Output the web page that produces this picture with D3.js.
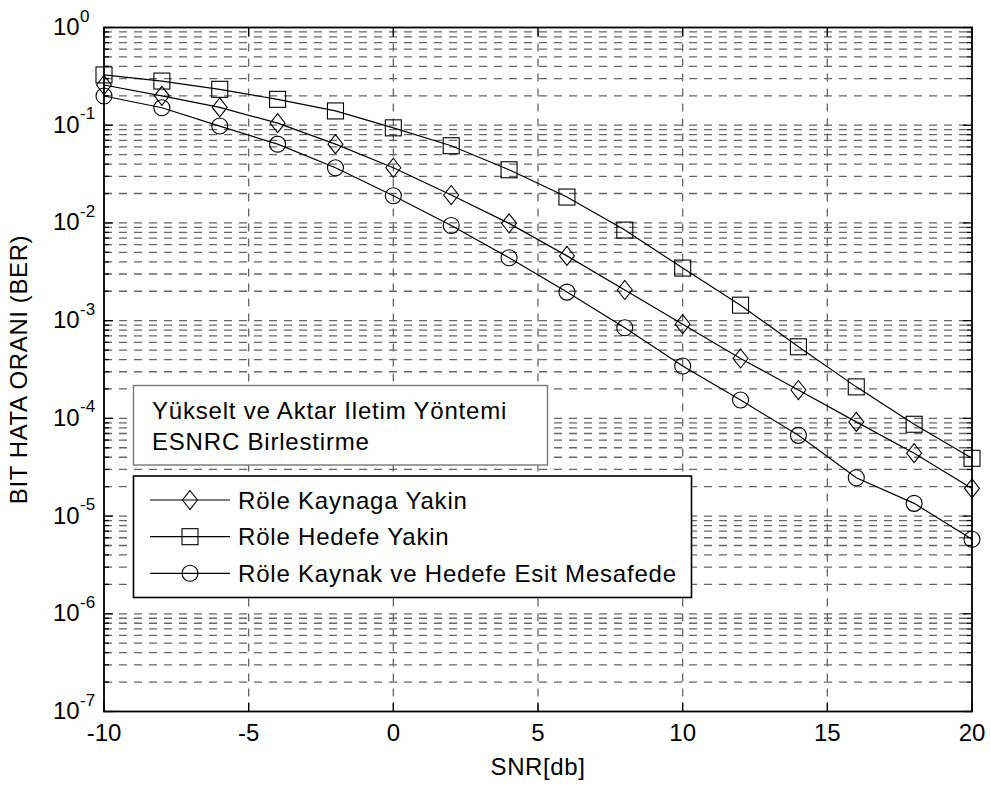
<!DOCTYPE html>
<html>
<head>
<meta charset="utf-8">
<script src="https://cdn.jsdelivr.net/npm/d3@7"></script>
<style>
  body { margin: 0; background: #fff; }
  text { font-family: "Liberation Sans", Arial, Helvetica, sans-serif; fill: #000; }
</style>
</head>
<body>
<svg id="chart" width="991" height="789"></svg>
<script>
// SNR values (dB) for every simulated point
const snr = [-10, -8, -6, -4, -2, 0, 2, 4, 6, 8, 10, 12, 14, 16, 18, 20];

// Bit error rate for each relay position
const berKaynaga = [0.258, 0.2, 0.152, 0.105, 0.064, 0.0367, 0.0193, 0.0099, 0.0046, 0.00206,
                    0.00092, 0.00041, 0.000195, 9.2e-5, 4.4e-5, 1.92e-5];
const berHedefe  = [0.327, 0.283, 0.233, 0.184, 0.14, 0.094, 0.0617, 0.035, 0.0184, 0.00845,
                    0.00345, 0.00144, 0.00054, 0.00021, 8.7e-5, 3.9e-5];
const berEsit    = [0.199, 0.151, 0.098, 0.064, 0.0367, 0.019, 0.0094, 0.0044, 0.00196, 0.000846,
                    0.000343, 0.000154, 6.7e-5, 2.47e-5, 1.35e-5, 5.8e-6];

const seriesNames = ["Röle Kaynaga Yakin", "Röle Hedefe Yakin", "Röle Kaynak ve Hedefe Esit Mesafede"];
const seriesMarkers = ["diamond", "square", "circle"];
const noteLines = ["Yükselt ve Aktar Iletim Yöntemi", "ESNRC Birlestirme"];

const xTicks = [-10, -5, 0, 5, 10, 15, 20];
const yExponents = [0, -1, -2, -3, -4, -5, -6, -7];
const xTitle = "SNR[db]";
const yTitle = "BIT HATA ORANI (BER)";

const series = [berKaynaga, berHedefe, berEsit];

// ---- layout ----
const L = 104, R = 972, T = 27.5, B = 711.5;
const svg = d3.select("#chart");

const x = d3.scaleLinear().domain([-10, 20]).range([L, R]);
const y = d3.scaleLog().domain([1e-7, 1]).range([B, T]);

const gridColor = "#666";
const grid = svg.append("g").attr("stroke", gridColor).attr("stroke-width", 1.3)
  .attr("stroke-dasharray", "8,7").attr("fill", "none");

// horizontal grid on every decade and sub-decade value
const yGridVals = [];
for (let d = -7; d <= -1; d++) {
  for (let m = 1; m <= 9; m++) {
    const v = m * Math.pow(10, d);
    if (v > 1e-7 * 1.0001) yGridVals.push(v);
  }
}
grid.selectAll("line.h").data(yGridVals).join("line")
  .attr("x1", L).attr("x2", R)
  .attr("y1", d => y(d)).attr("y2", d => y(d));

// vertical grid at the inner x ticks
grid.selectAll("line.v").data(xTicks.slice(1, -1)).join("line")
  .attr("x1", d => x(d)).attr("x2", d => x(d))
  .attr("y1", B).attr("y2", T);

// ---- tick marks (inside the frame) ----
const ticks = svg.append("g").attr("stroke", "#000").attr("stroke-width", 1.3);
xTicks.forEach(v => {
  ticks.append("line").attr("x1", x(v)).attr("x2", x(v)).attr("y1", B).attr("y2", B - 9);
  ticks.append("line").attr("x1", x(v)).attr("x2", x(v)).attr("y1", T).attr("y2", T + 9);
});
for (let d = -7; d <= 0; d++) {
  for (let m = 1; m <= 9; m++) {
    const v = m * Math.pow(10, d);
    if (v > 1.0001) continue;
    const len = m === 1 ? 9 : 5;
    ticks.append("line").attr("x1", L).attr("x2", L + len).attr("y1", y(v)).attr("y2", y(v));
    ticks.append("line").attr("x1", R).attr("x2", R - len).attr("y1", y(v)).attr("y2", y(v));
  }
}

// ---- curves ----
const line = d3.line().x(d => x(d[0])).y(d => y(d[1]));
series.forEach(vals => {
  svg.append("path")
    .datum(snr.map((s, i) => [s, vals[i]]))
    .attr("d", line)
    .attr("fill", "none").attr("stroke", "#000").attr("stroke-width", 1.2);
});

// marker shapes
function drawMarker(g, kind, cx, cy) {
  const st = { fill: "none", stroke: "#000", "stroke-width": 1.1 };
  let el;
  if (kind === "circle") {
    el = g.append("circle").attr("cx", cx).attr("cy", cy).attr("r", 8);
  } else if (kind === "square") {
    el = g.append("rect").attr("x", cx - 8).attr("y", cy - 8).attr("width", 16).attr("height", 16);
  } else {
    el = g.append("path").attr("d",
      `M${cx},${cy - 9.5}L${cx + 7.5},${cy}L${cx},${cy + 9.5}L${cx - 7.5},${cy}Z`);
  }
  Object.entries(st).forEach(([k, v]) => el.attr(k, v));
}

const markerLayer = svg.append("g");
series.forEach((vals, si) => {
  snr.forEach((s, i) => drawMarker(markerLayer, seriesMarkers[si], x(s), y(vals[i])));
});

// ---- frame ----
svg.append("rect").attr("x", L).attr("y", T).attr("width", R - L).attr("height", B - T)
  .attr("fill", "none").attr("stroke", "#000").attr("stroke-width", 1.8);

// ---- tick labels ----
const fs = 24;
svg.append("g").selectAll("text").data(xTicks).join("text")
  .attr("x", d => x(d)).attr("y", 741)
  .attr("text-anchor", "middle").attr("font-size", fs)
  .text(d => d);

yExponents.forEach(e => {
  const yy = y(Math.pow(10, e));
  svg.append("text").attr("x", 53).attr("y", yy + 7.5).attr("font-size", fs).text("10");
  svg.append("text").attr("x", 80).attr("y", yy - 6).attr("font-size", 17).text(e);
});

// ---- axis titles ----
svg.append("text").attr("x", (L + R) / 2).attr("y", 775).attr("text-anchor", "middle")
  .attr("font-size", fs).attr("letter-spacing", 0.6).text(xTitle);
svg.append("text").attr("transform", `translate(27,${(T + B) / 2}) rotate(-90)`)
  .attr("text-anchor", "middle").attr("font-size", fs).attr("letter-spacing", 0.6).text(yTitle);

// ---- note box ----
svg.append("rect").attr("x", 133.5).attr("y", 385.5).attr("width", 414).attr("height", 79.5)
  .attr("fill", "#fff").attr("stroke", "#777").attr("stroke-width", 1.4);
noteLines.forEach((t, i) => {
  svg.append("text").attr("x", 152).attr("y", 418.5 + i * 31.5)
    .attr("font-size", fs).attr("letter-spacing", 0.8).text(t);
});

// ---- legend ----
svg.append("rect").attr("x", 133.5).attr("y", 476).attr("width", 558).attr("height", 121.5)
  .attr("fill", "#fff").attr("stroke", "#000").attr("stroke-width", 1.6);
const legRows = [500, 536.7, 573.3];
seriesNames.forEach((name, i) => {
  const ly = legRows[i];
  svg.append("line").attr("x1", 150).attr("x2", 230).attr("y1", ly).attr("y2", ly)
    .attr("stroke", "#000").attr("stroke-width", 1.2);
  drawMarker(svg, seriesMarkers[i], 190, ly);
  svg.append("text").attr("x", 238).attr("y", ly + 8.5)
    .attr("font-size", fs).attr("letter-spacing", 0.8).text(name);
});
</script>
</body>
</html>
